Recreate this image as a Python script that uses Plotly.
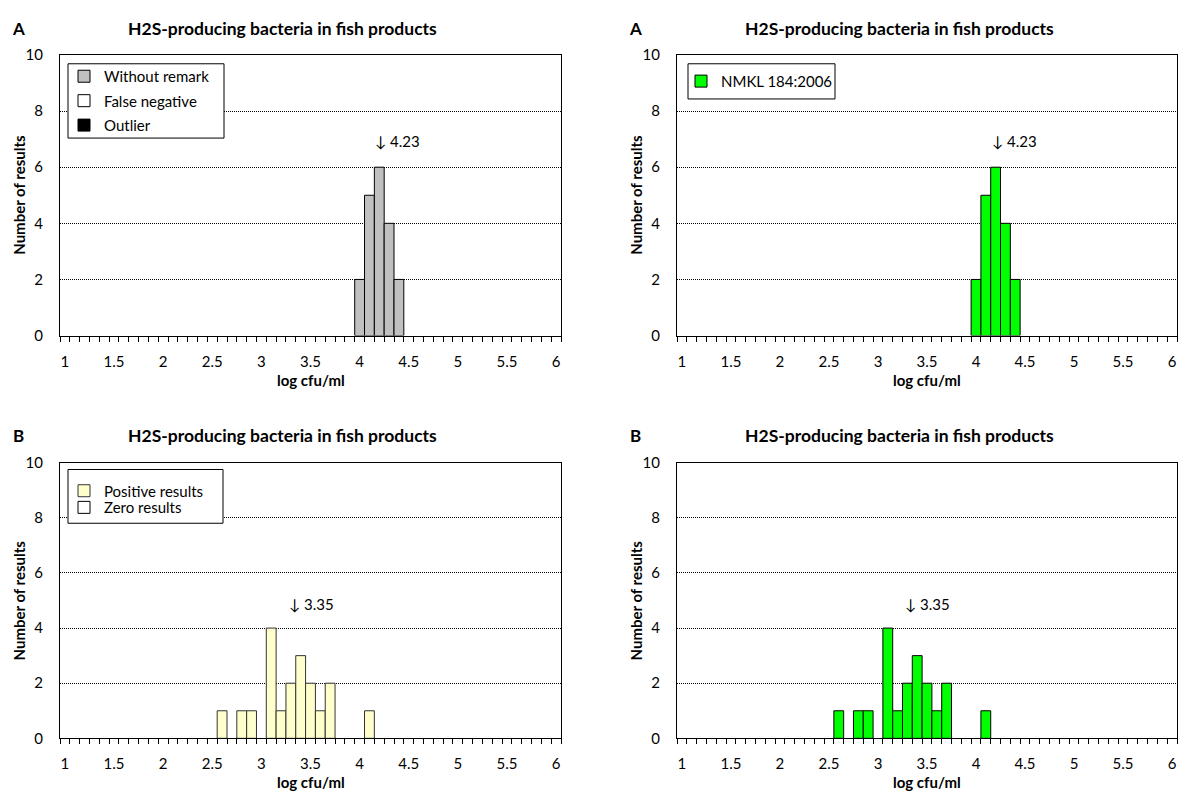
import plotly.graph_objects as go

# ---- data ----
title_text = "H2S-producing bacteria in fish products"
x_tick_vals = [1, 1.5, 2, 2.5, 3, 3.5, 4, 4.5, 5, 5.5, 6]
x_tick_text = ["1", "1.5", "2", "2.5", "3", "3.5", "4", "4.5", "5", "5.5", "6"]
y_tick_vals = [0, 2, 4, 6, 8, 10]

a_bins = [4.0, 4.1, 4.2, 4.3, 4.4]
a_counts = [2, 5, 6, 4, 2]
a_median = 4.23

b_bins = [2.6, 2.8, 2.9, 3.1, 3.2, 3.3, 3.4, 3.5, 3.6, 3.7, 4.1]
b_counts = [1, 1, 1, 4, 1, 2, 3, 2, 1, 2, 1]
b_median = 3.35

FONT = "Lato"
FS = 15
W, H = 1188, 805

fig = go.Figure()

def bar(x, y, name, color, xa, ya, legend, line="black", show=True):
    fig.add_trace(go.Bar(
        x=x, y=y, name=name, width=0.1,
        marker=dict(color=color, line=dict(color=line, width=1)),
        xaxis=xa, yaxis=ya, legend=legend, showlegend=show))

# Top-left
bar(a_bins, a_counts, "Without remark", "#C0C0C0", "x", "y", "legend")
bar([None], [None], "False negative", "#FFFFFF", "x", "y", "legend2")
bar([None], [None], "Outlier", "#000000", "x", "y", "legend3")
# Top-right
bar(a_bins, a_counts, "NMKL 184:2006", "#00FF00", "x2", "y2", "legend4")
# Bottom-left
bar(b_bins, b_counts, "Positive results", "#FFFFCC", "x3", "y3", "legend5", line="#333333")
bar([None], [None], "Zero results", "#FFFFFF", "x3", "y3", "legend6")
# Bottom-right
bar(b_bins, b_counts, "NMKL 184:2006", "#00FF00", "x4", "y4", "legend4", show=False)

xl = [60 / W, 561 / W]
xr = [677 / W, 1177 / W]
yt = [1 - 333 / H, 1 - 46 / H]
yb = [1 - 745 / H, 1 - 463 / H]

def xaxis(domain, anchor):
    return dict(domain=domain, anchor=anchor, range=[0.95, 6.05],
                tickmode="array", tickvals=x_tick_vals, ticktext=x_tick_text,
                ticks="", showline=True, linecolor="black", linewidth=1, mirror=True,
                showgrid=False, zeroline=False, ticklabelstandoff=12,
                tickfont=dict(family=FONT, size=FS, color="black"),
                minor=dict(tickmode="linear", tick0=0.95, dtick=0.1, ticks="outside",
                           ticklen=5, tickcolor="black", tickwidth=1, showgrid=False))

def yaxis(domain, anchor):
    return dict(domain=domain, anchor=anchor, range=[0, 10],
                tickmode="array", tickvals=y_tick_vals, ticks="",
                showline=True, linecolor="black", linewidth=1, mirror=True,
                showgrid=True, gridcolor="black", griddash="1px,1px", gridwidth=1,
                zeroline=False, ticklabelstandoff=13,
                tickfont=dict(family=FONT, size=FS, color="black"))

def leg(x, y):
    return dict(x=x / W, y=1 - y / H, bgcolor="rgba(0,0,0,0)", borderwidth=0,
                font=dict(family=FONT, size=FS, color="black"),
                xanchor="left", yanchor="middle", itemclick=False, itemwidth=30)

# legend frames (decoration)
shapes = []
for x0, y0, x1, y1 in [(68, 55, 224, 131), (688, 55, 835, 91), (68, 470, 223, 525)]:
    shapes.append(dict(type="rect", xref="paper", yref="paper",
                       x0=x0 / W, x1=x1 / W, y0=1 - y1 / H, y1=1 - y0 / H,
                       line=dict(color="black", width=1), fillcolor="white", layer="above"))

fig.update_layout(
    width=W, height=H, margin=dict(l=0, r=0, t=0, b=0),
    paper_bgcolor="white", plot_bgcolor="white", barmode="overlay",
    xaxis=xaxis(xl, "y"), yaxis=yaxis(yt, "x"),
    xaxis2=xaxis(xr, "y2"), yaxis2=yaxis(yt, "x2"),
    xaxis3=xaxis(xl, "y3"), yaxis3=yaxis(yb, "x3"),
    xaxis4=xaxis(xr, "y4"), yaxis4=yaxis(yb, "x4"),
    legend=leg(64, 68), legend2=leg(64, 93), legend3=leg(64, 118),
    legend4=leg(681, 73),
    legend5=leg(64, 492), legend6=leg(64, 509),
    shapes=shapes,
)

ann = []
def text(x, y, s, size=FS, bold=False, angle=0, xanchor="center"):
    ann.append(dict(xref="paper", yref="paper", x=x / W, y=1 - y / H, text=("<b>%s</b>" % s) if bold else s,
                    showarrow=False, textangle=angle, xanchor=xanchor, yanchor="middle",
                    font=dict(family=FONT, size=size, color="black")))

for (cx, lx, letter, ty, ax_center, xt_y, yt_center) in [
    (282, 18, "A", 19, 310.5, 378, 189),
    (899, 635, "A", 19, 927, 378, 189),
    (282, 18, "B", 435, 310.5, 790, 604),
    (899, 635, "B", 435, 927, 790, 604),
]:
    text(cx, ty, title_text, size=17.5, bold=True)
    text(lx, ty, letter, size=17, bold=True)
    text(ax_center, xt_y, "log cfu/ml", size=FS, bold=True)
    text(lx + 1, yt_center, "Number of results", size=FS, bold=True, angle=-90)

for xa, ya, med, yv in [("x", "y", a_median, 6.95), ("x2", "y2", a_median, 6.95),
                         ("x3", "y3", b_median, 4.89), ("x4", "y4", b_median, 4.89)]:
    ann.append(dict(xref=xa, yref=ya, x=med, y=yv, text="↓ %.2f" % med, showarrow=False,
                    xanchor="left", yanchor="middle", xshift=-9,
                    font=dict(family=FONT, size=FS, color="black")))

fig.update_layout(annotations=ann)
fig.write_html("out.html")
